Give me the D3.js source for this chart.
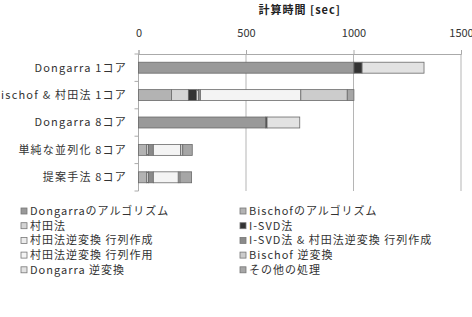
<!DOCTYPE html>
<html>
<head>
<meta charset="utf-8">
<script src="https://cdn.jsdelivr.net/npm/d3@7"></script>
<style>
  body { margin: 0; background: #fff; }
  text { font-family: "Noto Sans CJK JP", "Noto Sans", sans-serif; fill: #333; }
</style>
</head>
<body>
<div id="chart"></div>
<script>
const categories = ['Dongarra 1コア', 'Bischof & 村田法 1コア', 'Dongarra 8コア', '単純な並列化 8コア', '提案手法 8コア']
const seriesNames = [
  'Dongarraのアルゴリズム', 'Bischofのアルゴリズム', '村田法', 'I-SVD法',
  '村田法逆変換 行列作成', 'I-SVD法 & 村田法逆変換 行列作成', '村田法逆変換 行列作用',
  'Bischof 逆変換', 'Dongarra 逆変換', 'その他の処理'
]
const dongarraAlg   = [1002, 0, 592, 0, 0]
const bischofAlg    = [0, 154, 0, 38, 38]
const murata        = [0, 78, 0, 8, 8]
const isvd          = [38, 39, 6, 0, 0]
const invMake       = [0, 8, 0, 0, 0]
const isvdInvMake   = [0, 9, 0, 23, 23]
const invApply      = [0, 467, 0, 126, 116]
const bischofInv    = [0, 216, 0, 11, 8]
const dongarraInv   = [288, 0, 152, 0, 0]
const others        = [0, 31, 0, 44, 54]
const xTicks = [0, 500, 1000, 1500]

const seriesValues = [dongarraAlg, bischofAlg, murata, isvd, invMake, isvdInvMake, invApply, bischofInv, dongarraInv, others]
const colors = ['#999999', '#b3b3b3', '#d4d4d4', '#333333', '#ececec', '#8a8a8a', '#f4f4f4', '#cccccc', '#e2e2e2', '#a6a6a6']

const width = 472, height = 317

const rows = categories.map((c, i) => {
  const row = { category: c }
  seriesNames.forEach((s, j) => { row[s] = seriesValues[j][i] })
  return row
})

const svg = d3.select('#chart').append('svg')
  .attr('width', width)
  .attr('height', height)

const x = d3.scaleLinear().domain([0, 1500]).range([138.5, 461])
const y = d3.scaleBand().domain(categories).range([54, 191]).paddingInner(0.6).paddingOuter(0.3)

// grid
svg.append('g')
  .selectAll('line')
  .data(xTicks.slice(1))
  .enter().append('line')
    .attr('x1', d => x(d)).attr('x2', d => x(d))
    .attr('y1', 54).attr('y2', 191)
    .style('stroke', '#b5b5b5')
    .style('stroke-width', 1)

// top axis
const xAxis = d3.axisTop(x).tickValues(xTicks).tickFormat(d3.format('d')).tickSize(4).tickPadding(13)
const xg = svg.append('g').attr('transform', 'translate(0,54)').call(xAxis)
xg.select('.domain').style('stroke', '#aaa')
xg.selectAll('.tick line').style('stroke', '#aaa')
xg.selectAll('.tick text').style('font-size', '11px').style('fill', '#333')

// left axis
svg.append('line')
  .attr('x1', x(0)).attr('x2', x(0)).attr('y1', 54).attr('y2', 191)
  .style('stroke', '#aaa')
const bounds = categories.map(c => y(c) - y.step() * y.paddingInner() / 2).concat([191])
svg.append('g').selectAll('line')
  .data(bounds)
  .enter().append('line')
    .attr('x1', x(0) - 4).attr('x2', x(0))
    .attr('y1', d => d).attr('y2', d => d)
    .style('stroke', '#aaa')

svg.append('g').selectAll('text')
  .data(categories)
  .enter().append('text')
    .attr('x', 127)
    .attr('y', d => y(d) + y.bandwidth() / 2)
    .attr('dy', '0.35em')
    .attr('text-anchor', 'end')
    .style('font-size', '11px')
    .style('letter-spacing', '1.2px')
    .text(d => d)

// stacked bars
const stacked = d3.stack().keys(seriesNames)(rows)
svg.append('g').selectAll('g')
  .data(stacked)
  .enter().append('g')
    .style('fill', (d, i) => colors[i])
  .selectAll('rect')
  .data(d => d.filter(p => p[1] - p[0] > 0))
  .enter().append('rect')
    .attr('x', d => x(d[0]))
    .attr('y', d => y(d.data.category))
    .attr('width', d => x(d[1]) - x(d[0]))
    .attr('height', y.bandwidth())
    .style('stroke', '#6a6a6a')
    .style('stroke-width', 0.8)

// title
svg.append('text')
  .attr('x', (x(0) + x(1500)) / 2)
  .attr('y', 10)
  .attr('dy', '0.35em')
  .attr('text-anchor', 'middle')
  .style('font-size', '11px')
  .style('font-weight', 'bold')
  .style('letter-spacing', '1px')
  .style('fill', '#222')
  .text('計算時間 [sec]')

// legend
const legend = svg.append('g').selectAll('g')
  .data(seriesNames)
  .enter().append('g')
    .attr('transform', (d, i) => `translate(${i % 2 === 0 ? 21 : 240}, ${211 + Math.floor(i / 2) * 14.7})`)

legend.append('rect')
  .attr('x', 0).attr('y', -3)
  .attr('width', 6).attr('height', 6)
  .style('fill', (d, i) => colors[i])
  .style('stroke', '#777')
  .style('stroke-width', 0.8)

legend.append('text')
  .attr('x', 9)
  .attr('dy', '0.35em')
  .style('font-size', '11px')
  .style('letter-spacing', '1px')
  .text(d => d)
</script>
</body>
</html>
